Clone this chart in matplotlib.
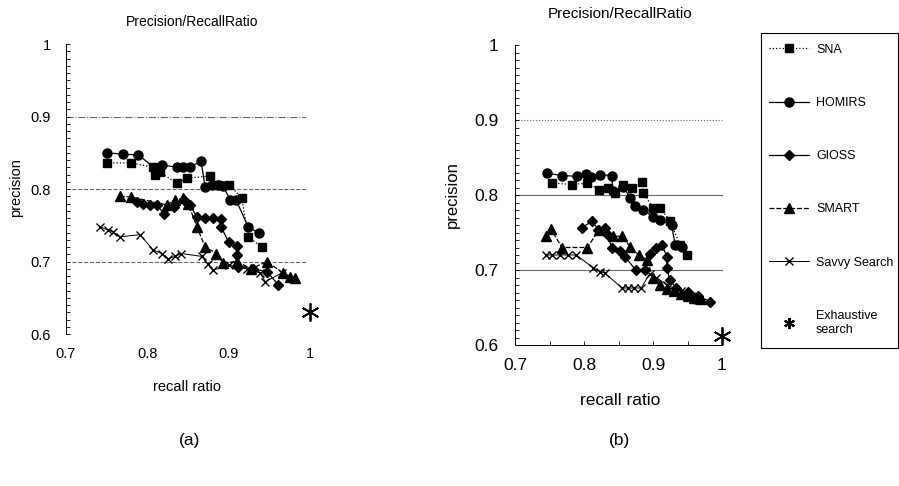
import matplotlib
matplotlib.use("Agg")
import matplotlib.pyplot as plt
from matplotlib.lines import Line2D
from matplotlib.ticker import MultipleLocator

plt.rcParams['font.family'] = ['Liberation Sans', 'DejaVu Sans']

# ---- datos (a) ----
sna_a_x = [0.750, 0.780, 0.807, 0.810, 0.815, 0.837, 0.849, 0.877, 0.887, 0.900, 0.916, 0.924, 0.941]
sna_a_y = [0.836, 0.836, 0.830, 0.819, 0.823, 0.808, 0.815, 0.818, 0.806, 0.806, 0.788, 0.734, 0.720]

homirs_a_x = [0.750, 0.770, 0.789, 0.809, 0.818, 0.837, 0.844, 0.853, 0.866, 0.871, 0.880, 0.887, 0.893, 0.902, 0.909, 0.924, 0.937]
homirs_a_y = [0.850, 0.848, 0.847, 0.829, 0.833, 0.830, 0.830, 0.830, 0.839, 0.803, 0.806, 0.806, 0.804, 0.785, 0.785, 0.748, 0.739]

gioss_a_x = [0.787, 0.795, 0.803, 0.812, 0.820, 0.833, 0.845, 0.852, 0.861, 0.871, 0.881, 0.891, 0.891, 0.900, 0.910, 0.910, 0.912, 0.930, 0.947, 0.961]
gioss_a_y = [0.782, 0.780, 0.778, 0.778, 0.766, 0.775, 0.785, 0.778, 0.762, 0.760, 0.760, 0.758, 0.747, 0.727, 0.721, 0.709, 0.693, 0.690, 0.686, 0.668]

smart_a_x = [0.766, 0.780, 0.824, 0.834, 0.844, 0.850, 0.861, 0.871, 0.885, 0.893, 0.910, 0.928, 0.947, 0.967, 0.976, 0.982]
smart_a_y = [0.790, 0.789, 0.778, 0.785, 0.787, 0.780, 0.748, 0.720, 0.711, 0.698, 0.700, 0.690, 0.700, 0.684, 0.679, 0.677]

savvy_a_x = [0.742, 0.752, 0.758, 0.766, 0.791, 0.807, 0.818, 0.826, 0.834, 0.842, 0.867, 0.874, 0.881, 0.900, 0.922, 0.939, 0.945, 0.965]
savvy_a_y = [0.748, 0.743, 0.741, 0.734, 0.737, 0.716, 0.711, 0.704, 0.707, 0.711, 0.707, 0.697, 0.688, 0.695, 0.690, 0.684, 0.672, 0.684]

exh_a = (1.0, 0.630)

# ---- datos (b) ----
sna_b_x = [0.753, 0.782, 0.805, 0.822, 0.835, 0.845, 0.857, 0.870, 0.884, 0.886, 0.900, 0.910, 0.925, 0.939, 0.949]
sna_b_y = [0.816, 0.814, 0.816, 0.807, 0.810, 0.803, 0.814, 0.810, 0.817, 0.803, 0.783, 0.783, 0.765, 0.734, 0.720]

homirs_b_x = [0.746, 0.768, 0.790, 0.803, 0.810, 0.823, 0.840, 0.842, 0.857, 0.867, 0.874, 0.886, 0.900, 0.910, 0.927, 0.932, 0.942]
homirs_b_y = [0.829, 0.826, 0.825, 0.828, 0.824, 0.827, 0.826, 0.805, 0.811, 0.796, 0.786, 0.780, 0.771, 0.767, 0.760, 0.734, 0.731]

gioss_b_x = [0.797, 0.811, 0.821, 0.830, 0.835, 0.840, 0.852, 0.859, 0.875, 0.888, 0.896, 0.905, 0.913, 0.920, 0.920, 0.924, 0.934, 0.950, 0.965, 0.983]
gioss_b_y = [0.756, 0.765, 0.754, 0.756, 0.747, 0.729, 0.725, 0.718, 0.700, 0.700, 0.722, 0.730, 0.734, 0.718, 0.703, 0.687, 0.676, 0.670, 0.665, 0.658]

smart_b_x = [0.745, 0.752, 0.768, 0.805, 0.822, 0.842, 0.855, 0.867, 0.879, 0.891, 0.900, 0.910, 0.920, 0.930, 0.940, 0.950, 0.960, 0.970]
smart_b_y = [0.745, 0.755, 0.730, 0.730, 0.754, 0.745, 0.745, 0.731, 0.720, 0.714, 0.690, 0.680, 0.675, 0.672, 0.668, 0.665, 0.663, 0.662]

savvy_b_x = [0.745, 0.753, 0.765, 0.777, 0.789, 0.813, 0.823, 0.830, 0.855, 0.864, 0.873, 0.883, 0.895, 0.905, 0.920, 0.940, 0.955, 0.965]
savvy_b_y = [0.720, 0.720, 0.720, 0.720, 0.720, 0.703, 0.698, 0.696, 0.676, 0.676, 0.676, 0.676, 0.695, 0.690, 0.680, 0.672, 0.665, 0.660]

exh_b = (1.0, 0.612)

y_ticks = [0.6, 0.7, 0.8, 0.9, 1.0]
y_labels = ['0.6', '0.7', '0.8', '0.9', '1']
x_ticks = [0.7, 0.8, 0.9, 1.0]
x_labels = ['0.7', '0.8', '0.9', '1']

estilos = {
    'SNA': dict(color='black', ls=':', lw=0.9, marker='s', ms=6),
    'HOMIRS': dict(color='black', ls='-', lw=0.9, marker='o', ms=6.5),
    'GIOSS': dict(color='black', ls='-', lw=0.9, marker='D', ms=5.2),
    'SMART': dict(color='black', ls=(0, (4, 1.5)), lw=0.9, marker='^', ms=6.5),
    'Savvy Search': dict(color='black', ls='-', lw=0.7, marker='x', ms=5.5, mew=1.0),
}
exh_style = dict(color='black', marker=(6, 2, 0), ms=13, mew=1.3, ls='none')

fig = plt.figure(figsize=(8.99, 4.86), dpi=100)


def dibujar(ax, series, exh, fs, pad_y, pad_x, grid_styles, xgrid_end):
    for nombre, (xs, ys) in series.items():
        ax.plot(xs, ys, **estilos[nombre])
    ax.plot([exh[0]], [exh[1]], **exh_style)
    for yv, st in zip([0.9, 0.8, 0.7], grid_styles):
        ax.plot([0.7, xgrid_end], [yv, yv], color='#666666', lw=0.8, ls=st, zorder=0)
    ax.set_xlim(0.7, 1.0)
    ax.set_ylim(0.6, 1.0)
    ax.set_yticks(y_ticks)
    ax.set_yticklabels(y_labels)
    ax.set_xticks(x_ticks)
    ax.set_xticklabels(x_labels)
    ax.yaxis.set_minor_locator(MultipleLocator(0.01))
    ax.tick_params(axis='y', which='both', direction='in', labelsize=fs, pad=pad_y, length=3, width=0.6)
    ax.tick_params(axis='x', which='both', direction='in', labelsize=fs, pad=pad_x, length=3, width=0.6)
    ax.spines['top'].set_visible(False)
    ax.spines['right'].set_visible(False)
    ax.spines['left'].set_linewidth(0.7)
    ax.set_facecolor('none')


# (a)
ax1 = fig.add_axes([66 / 899, 1 - 334 / 486, 244 / 899, 290 / 486])
series_a = {
    'SNA': (sna_a_x, sna_a_y),
    'HOMIRS': (homirs_a_x, homirs_a_y),
    'GIOSS': (gioss_a_x, gioss_a_y),
    'SMART': (smart_a_x, smart_a_y),
    'Savvy Search': (savvy_a_x, savvy_a_y),
}
dibujar(ax1, series_a, exh_a, 10.5, 11, 9, ['-.', '--', '--'], 0.995)
ax1.spines['bottom'].set_visible(False)
ax1.tick_params(axis='x', length=0)
for s in ax1.get_lines():
    s.set_clip_on(False)

# (b)
ax2 = fig.add_axes([515 / 899, 1 - 345 / 486, 207 / 899, 300 / 486])
series_b = {
    'SNA': (sna_b_x, sna_b_y),
    'HOMIRS': (homirs_b_x, homirs_b_y),
    'GIOSS': (gioss_b_x, gioss_b_y),
    'SMART': (smart_b_x, smart_b_y),
    'Savvy Search': (savvy_b_x, savvy_b_y),
}
dibujar(ax2, series_b, exh_b, 12.5, 12, 9, [':', '-', '-'], 1.0)
ax2.xaxis.set_minor_locator(MultipleLocator(0.05))
ax2.spines['bottom'].set_linewidth(0.7)
for s in ax2.get_lines():
    s.set_clip_on(False)

# textos
fig.text(192 / 899, 1 - 22 / 486, 'Precision/RecallRatio', ha='center', va='center', fontsize=10)
fig.text(620 / 899, 1 - 14 / 486, 'Precision/RecallRatio', ha='center', va='center', fontsize=11)
fig.text(16 / 899, 1 - 188 / 486, 'precision', rotation=90, ha='center', va='center', fontsize=10.5)
fig.text(452 / 899, 1 - 195 / 486, 'precision', rotation=90, ha='center', va='center', fontsize=12)
fig.text(187 / 899, 1 - 387 / 486, 'recall ratio', ha='center', va='center', fontsize=10.5)
fig.text(620 / 899, 1 - 400 / 486, 'recall ratio', ha='center', va='center', fontsize=12.5)
fig.text(190 / 899, 1 - 440 / 486, '(a)', ha='center', va='center', fontsize=12.5)
fig.text(620 / 899, 1 - 440 / 486, '(b)', ha='center', va='center', fontsize=12.5)

# leyenda en su propia caja
lax = fig.add_axes([761 / 899, 1 - 348 / 486, 137 / 899, 315 / 486])
lax.set_xticks([])
lax.set_yticks([])
for sp in lax.spines.values():
    sp.set_linewidth(0.8)
handles = [Line2D([], [], **estilos[n]) for n in estilos]
handles.append(Line2D([], [], color='black', marker=(6, 2, 0), ms=8, mew=1.5, ls='none'))
labels = list(estilos.keys()) + ['Exhaustive\nsearch']
lax.legend(handles, labels, loc='upper left', frameon=False, fontsize=9,
           labelspacing=3.3, handlelength=3.2, handletextpad=0.6,
           borderaxespad=0.2, bbox_to_anchor=(0.0, 0.99))

fig.savefig('out.png', dpi=100)
